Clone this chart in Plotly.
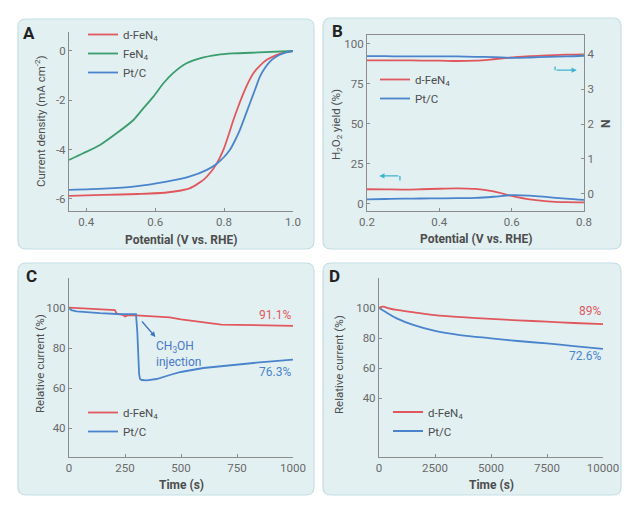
import plotly.graph_objects as go

W, H = 641, 514


def fx(px):
    return px / W


def fy(py):
    return 1 - py / H


RED = "#e0585d"
GREEN = "#3a9d6c"
BLUE = "#4b84cc"
TEAL = "#3fb3cf"
AXIS = "#8c8c8c"
TICK_TXT = "#6a6a6a"
TITLE_TXT = "#4d4d4d"
PANEL_FILL = "#e2f0f2"
PANEL_LINE = "#c3dfe3"
FONT = "Roboto"

# ---------------- Panel A: LSV curves ----------------
a_pot_red = [0.35, 0.45, 0.55, 0.633, 0.70, 0.74, 0.765, 0.778, 0.798, 0.812, 0.827, 0.842, 0.856, 0.870, 0.885, 0.905, 0.924, 0.945, 0.962, 0.98, 1.0]
a_j_red = [-5.88, -5.84, -5.80, -5.74, -5.57, -5.23, -4.85, -4.58, -4.01, -3.45, -2.80, -2.22, -1.72, -1.28, -0.90, -0.58, -0.36, -0.21, -0.12, -0.05, 0.0]
a_pot_green = [0.35, 0.391, 0.44, 0.488, 0.537, 0.566, 0.595, 0.624, 0.652, 0.691, 0.73, 0.78, 0.826, 0.9, 1.0]
a_j_green = [-4.42, -4.15, -3.81, -3.34, -2.80, -2.32, -1.85, -1.31, -0.90, -0.50, -0.30, -0.16, -0.10, -0.06, 0.0]
a_pot_blue = [0.35, 0.45, 0.537, 0.633, 0.701, 0.75, 0.778, 0.80, 0.817, 0.832, 0.846, 0.860, 0.875, 0.890, 0.904, 0.918, 0.933, 0.952, 0.972, 0.987, 1.0]
a_j_blue = [-5.63, -5.58, -5.50, -5.30, -5.09, -4.82, -4.58, -4.30, -4.01, -3.62, -3.20, -2.68, -2.12, -1.56, -1.04, -0.70, -0.43, -0.22, -0.10, -0.04, 0.0]
a_xticks = [0.4, 0.6, 0.8, 1.0]
a_xtick_text = ["0.4", "0.6", "0.8", "1.0"]
a_yticks = [-6, -4, -2, 0]
a_ytick_text = ["-6", "-4", "-2", "0"]

# ---------------- Panel B: RRDE ----------------
b_pot = [0.2, 0.25, 0.3, 0.35, 0.4, 0.45, 0.5, 0.55, 0.6, 0.65, 0.7, 0.75, 0.8]
b_yield_red = [9.2, 9.1, 9.0, 9.2, 9.5, 9.8, 9.4, 7.8, 5.0, 2.8, 1.6, 1.1, 1.0]
b_yield_blue = [2.9, 3.1, 3.3, 3.4, 3.5, 3.6, 3.8, 4.5, 5.5, 5.2, 4.3, 3.3, 2.5]
b_n_red = [3.82, 3.82, 3.82, 3.81, 3.81, 3.80, 3.81, 3.85, 3.90, 3.94, 3.96, 3.98, 3.99]
b_n_blue = [3.94, 3.94, 3.93, 3.93, 3.93, 3.93, 3.92, 3.91, 3.89, 3.90, 3.92, 3.93, 3.95]
b_xticks = [0.2, 0.4, 0.6, 0.8]
b_xtick_text = ["0.2", "0.4", "0.6", "0.8"]
b_yticks = [0, 25, 50, 75, 100]
b_nticks = [0, 1, 2, 3, 4]

# ---------------- Panel C: methanol tolerance ----------------
c_t_red = [0, 50, 100, 150, 205, 212, 220, 240, 250, 258, 270, 300, 350, 400, 450, 500, 550, 600, 650, 680, 750, 850, 1000]
c_i_red = [100.2, 99.9, 99.6, 99.3, 99.0, 97.4, 96.9, 96.6, 95.8, 96.2, 96.5, 96.3, 96.0, 95.7, 95.3, 94.3, 93.5, 92.8, 92.1, 91.7, 91.6, 91.4, 91.1]
c_t_blue = [0, 10, 34, 80, 138, 213, 250, 299, 305, 309, 313, 317, 325, 347, 391, 450, 499, 600, 748, 850, 1000]
c_i_blue = [100.0, 98.9, 98.3, 97.8, 97.4, 97.0, 97.1, 96.9, 88.0, 72.0, 67.0, 64.5, 64.0, 63.8, 64.5, 66.5, 68.0, 70.0, 71.8, 72.8, 74.2]
c_xticks = [0, 250, 500, 750, 1000]
c_yticks = [40, 60, 80, 100]

# ---------------- Panel D: durability ----------------
d_t_red = [0, 190, 400, 790, 1500, 2500, 3700, 5000, 6200, 7490, 8700, 10000]
d_i_red = [100.2, 100.9, 100.0, 98.7, 97.3, 95.3, 93.9, 92.7, 91.8, 90.9, 90.0, 89.2]
d_t_blue = [0, 300, 790, 1530, 2500, 3616, 5000, 6200, 7490, 8700, 10000]
d_i_blue = [100.0, 97.3, 93.1, 88.7, 84.7, 82.0, 79.8, 78.0, 76.4, 74.6, 72.7]
d_xticks = [0, 2500, 5000, 7500, 10000]
d_xtick_text = ["0", "2500", "5000", "7500", "10000"]
d_yticks = [40, 60, 80, 100]

LW = 1.8
fig = go.Figure()

# Panel A
fig.add_trace(go.Scatter(x=a_pot_red, y=a_j_red, mode="lines", name="d-FeN<sub>4</sub>",
                         line=dict(color=RED, width=LW, shape="spline", smoothing=0.6),
                         xaxis="x", yaxis="y", legend="legend"))
fig.add_trace(go.Scatter(x=a_pot_green, y=a_j_green, mode="lines", name="FeN<sub>4</sub>",
                         line=dict(color=GREEN, width=LW, shape="spline", smoothing=0.6),
                         xaxis="x", yaxis="y", legend="legend"))
fig.add_trace(go.Scatter(x=a_pot_blue, y=a_j_blue, mode="lines", name="Pt/C",
                         line=dict(color=BLUE, width=LW, shape="spline", smoothing=0.6),
                         xaxis="x", yaxis="y", legend="legend"))

# Panel B
fig.add_trace(go.Scatter(x=b_pot, y=b_yield_red, mode="lines", name="d-FeN<sub>4</sub>",
                         line=dict(color=RED, width=LW, shape="spline"),
                         xaxis="x2", yaxis="y2", legend="legend2"))
fig.add_trace(go.Scatter(x=b_pot, y=b_yield_blue, mode="lines", name="Pt/C",
                         line=dict(color=BLUE, width=LW, shape="spline"),
                         xaxis="x2", yaxis="y2", legend="legend2"))
fig.add_trace(go.Scatter(x=b_pot, y=b_n_red, mode="lines", showlegend=False,
                         line=dict(color=RED, width=LW, shape="spline"),
                         xaxis="x2", yaxis="y3"))
fig.add_trace(go.Scatter(x=b_pot, y=b_n_blue, mode="lines", showlegend=False,
                         line=dict(color=BLUE, width=LW, shape="spline"),
                         xaxis="x2", yaxis="y3"))

# Panel C
fig.add_trace(go.Scatter(x=c_t_red, y=c_i_red, mode="lines", name="d-FeN<sub>4</sub>",
                         line=dict(color=RED, width=LW),
                         xaxis="x4", yaxis="y4", legend="legend3"))
fig.add_trace(go.Scatter(x=c_t_blue, y=c_i_blue, mode="lines", name="Pt/C",
                         line=dict(color=BLUE, width=LW),
                         xaxis="x4", yaxis="y4", legend="legend3"))

# Panel D
fig.add_trace(go.Scatter(x=d_t_red, y=d_i_red, mode="lines", name="d-FeN<sub>4</sub>",
                         line=dict(color=RED, width=LW, shape="spline"),
                         xaxis="x5", yaxis="y5", legend="legend4"))
fig.add_trace(go.Scatter(x=d_t_blue, y=d_i_blue, mode="lines", name="Pt/C",
                         line=dict(color=BLUE, width=LW, shape="spline"),
                         xaxis="x5", yaxis="y5", legend="legend4"))


def ax(**kw):
    base = dict(showline=True, linecolor=AXIS, linewidth=1.2, ticks="inside", ticklen=3,
                tickcolor=AXIS, tickwidth=1, showgrid=False, zeroline=False,
                tickfont=dict(family=FONT, size=11.5, color=TICK_TXT), automargin=False,
                fixedrange=True)
    base.update(kw)
    return base


fig.update_layout(
    width=W, height=H,
    margin=dict(l=0, r=0, t=0, b=0),
    paper_bgcolor="white", plot_bgcolor="rgba(0,0,0,0)",
    template="none",
    font=dict(family=FONT, size=11, color=TITLE_TXT),
    xaxis=ax(domain=[fx(69), fx(293)], range=[0.35, 1.0], tickvals=a_xticks, ticktext=a_xtick_text, anchor="y"),
    yaxis=ax(domain=[fy(211), fy(32)], range=[-6.49, 0.77], tickvals=a_yticks, ticktext=a_ytick_text, anchor="x"),
    xaxis2=ax(domain=[fx(367), fx(584)], range=[0.2, 0.8], tickvals=b_xticks, ticktext=b_xtick_text, anchor="y2", mirror=True),
    yaxis2=ax(domain=[fy(211), fy(35)], range=[-4.4, 105.6], tickvals=b_yticks, anchor="x2"),
    yaxis3=ax(domain=[fy(211), fy(35)], range=[-0.486, 4.543], tickvals=b_nticks, anchor="x2",
              overlaying="y2", side="right"),
    xaxis4=ax(domain=[fx(69), fx(293)], range=[0, 1000], tickvals=c_xticks, anchor="y4"),
    yaxis4=ax(domain=[fy(457), fy(278)], range=[25.5, 115], tickvals=c_yticks, anchor="x4"),
    xaxis5=ax(domain=[fx(379), fx(603)], range=[0, 10000], tickvals=d_xticks, ticktext=d_xtick_text, anchor="y5"),
    yaxis5=ax(domain=[fy(457), fy(278)], range=[0.7, 120], tickvals=d_yticks, anchor="x5"),
    showlegend=True,
)

leg_common = dict(xanchor="left", yanchor="top", bgcolor="rgba(0,0,0,0)",
                  font=dict(family=FONT, size=11.5, color=TITLE_TXT), tracegroupgap=0,
                  borderwidth=0)
fig.update_layout(
    legend=dict(x=fx(83), y=fy(20), **leg_common),
    legend2=dict(x=fx(375), y=fy(65), **leg_common),
    legend3=dict(x=fx(83), y=fy(398), **leg_common),
    legend4=dict(x=fx(388), y=fy(397.5), **leg_common),
)


# Panel backgrounds (rounded rectangles)
def rrect(x0, y0, x1, y1, r=8):
    X0, X1 = fx(x0), fx(x1)
    Y0, Y1 = fy(y0), fy(y1)
    rx, ry = r / W, r / H
    return (f"M{X0 + rx},{Y0} L{X1 - rx},{Y0} Q{X1},{Y0} {X1},{Y0 - ry} "
            f"L{X1},{Y1 + ry} Q{X1},{Y1} {X1 - rx},{Y1} L{X0 + rx},{Y1} "
            f"Q{X0},{Y1} {X0},{Y1 + ry} L{X0},{Y0 - ry} Q{X0},{Y0} {X0 + rx},{Y0} Z")


shapes = []
for (x0, y0, x1, y1) in [(18, 19, 314, 249), (323, 18, 621, 249), (18, 263, 314, 495), (323, 263, 621, 495)]:
    shapes.append(dict(type="path", path=rrect(x0, y0, x1, y1), xref="paper", yref="paper",
                       fillcolor=PANEL_FILL, line=dict(color=PANEL_LINE, width=1.2), layer="below"))

# hook segments of the axis-indicator arrows in panel B
shapes.append(dict(type="line", xref="x2", yref="y2", x0=0.291, x1=0.291, y0=17.5, y1=14.6,
                   line=dict(color=TEAL, width=1.3)))
shapes.append(dict(type="line", xref="x2", yref="y2", x0=0.72, x1=0.72, y0=85.9, y1=83.6,
                   line=dict(color=TEAL, width=1.3)))
fig.update_layout(shapes=shapes)

ann = []


def paper_text(text, px, py, size=11, color=TITLE_TXT, angle=0, bold=False):
    if bold:
        text = f"<b>{text}</b>"
    ann.append(dict(text=text, x=fx(px), y=fy(py), xref="paper", yref="paper", showarrow=False,
                    xanchor="center", yanchor="middle", textangle=angle,
                    font=dict(family=FONT, size=size, color=color)))


# Panel letters
paper_text("A", 29, 33, size=17, color="#222222", bold=True)
paper_text("B", 337, 31, size=17, color="#222222", bold=True)
paper_text("C", 31, 276, size=17, color="#222222", bold=True)
paper_text("D", 334, 276, size=17, color="#222222", bold=True)

# Axis titles
paper_text("Current density (mA cm<sup>-2</sup>)", 40, 121, size=11.5, angle=-90)
paper_text("Potential (V vs. RHE)", 181, 240, size=12, bold=True)
paper_text("H<sub>2</sub>O<sub>2</sub> yield (%)", 336, 125, size=11.5, angle=-90)
paper_text("N", 606, 124, size=12, angle=-90, bold=True)
paper_text("Potential (V vs. RHE)", 476, 239, size=12, bold=True)
paper_text("Relative current (%)", 40, 364, size=11.5, angle=-90)
paper_text("Time (s)", 181, 485, size=12, bold=True)
paper_text("Relative current (%)", 339, 365, size=11.5, angle=-90)
paper_text("Time (s)", 491, 485, size=12, bold=True)

# Arrows in B
ann.append(dict(x=0.234, y=17.5, ax=0.291, ay=17.5, xref="x2", yref="y2", axref="x2", ayref="y2",
                text="", showarrow=True, arrowhead=2, arrowsize=0.8, arrowwidth=1.3, arrowcolor=TEAL))
ann.append(dict(x=0.78, y=83.6, ax=0.72, ay=83.6, xref="x2", yref="y2", axref="x2", ayref="y2",
                text="", showarrow=True, arrowhead=2, arrowsize=0.8, arrowwidth=1.3, arrowcolor=TEAL))

# Panel C annotations
ann.append(dict(x=386, y=85.5, ax=320, ay=94, xref="x4", yref="y4", axref="x4", ayref="y4",
                text="", showarrow=True, arrowhead=2, arrowsize=0.8, arrowwidth=1.3, arrowcolor="#3f73c4"))
ann.append(dict(x=378, y=85.5, xref="x4", yref="y4", showarrow=False, xanchor="left", yanchor="top",
                align="left", text="CH<sub>3</sub>OH<br>injection",
                font=dict(family=FONT, size=12, color="#4a78c8")))
ann.append(dict(x=1000, y=96.5, xref="x4", yref="y4", showarrow=False, xanchor="right", yanchor="middle",
                text="91.1%", font=dict(family=FONT, size=12, color=RED)))
ann.append(dict(x=1000, y=68, xref="x4", yref="y4", showarrow=False, xanchor="right", yanchor="middle",
                text="76.3%", font=dict(family=FONT, size=12, color=BLUE)))

# Panel D annotations
ann.append(dict(x=10000, y=98, xref="x5", yref="y5", showarrow=False, xanchor="right", yanchor="middle",
                text="89%", font=dict(family=FONT, size=12, color=RED)))
ann.append(dict(x=10000, y=68, xref="x5", yref="y5", showarrow=False, xanchor="right", yanchor="middle",
                text="72.6%", font=dict(family=FONT, size=12, color=BLUE)))

fig.update_layout(annotations=ann)

fig.write_html("out.html", config={"displayModeBar": False},
               post_script="document.body.style.margin='0px';")
